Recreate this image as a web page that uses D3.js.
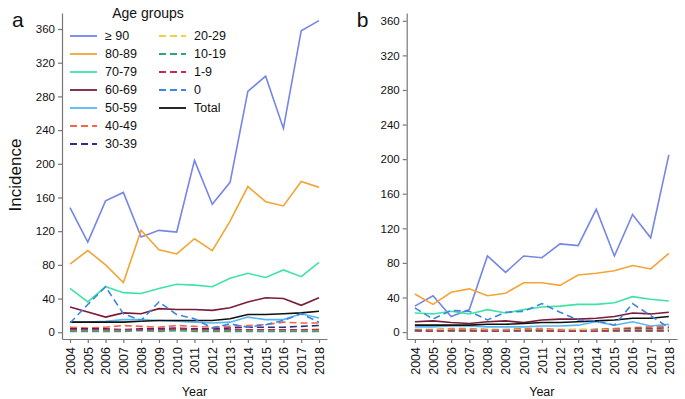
<html>
<head>
<script src="https://d3js.org/d3.v7.min.js"></script>
<style>
body { margin: 0; background: #fff; }
text { font-family: "Liberation Sans", Arial, sans-serif; fill: #111; }
</style>
</head>
<body>
<svg id="chart" width="685" height="399"></svg>
<script>
var years = [2004,2005,2006,2007,2008,2009,2010,2011,2012,2013,2014,2015,2016,2017,2018];
var groups = ["≥ 90","80-89","70-79","60-69","50-59","40-49","30-39","20-29","10-19","1-9","0","Total"];
var colors = ["#7585e8","#f4a434","#3fe3a6","#7a1c38","#55b8f2","#f2664a","#2e2f80","#f0d23a","#2aa877","#c22a5c","#3b86e0","#111111"];
var dashed = [false,false,false,false,false,true,true,true,true,true,true,false];
var yTicks = [0,40,80,120,160,200,240,280,320,360];

// panel a
var a90   = [148,107,156,166,113,121,119,204,152,178,286,304,242,358,370];
var a80   = [81,97,80,59,121,98,93,111,97,132,173,155,150,179,172];
var a70   = [52,36,54,47,46,52,57,56,54,64,70,65,74,66,83];
var a60   = [30,24,18,23,22,28,27,27,26,29,36,41,40,32,41];
var a50   = [12,12,13,15,15,14,13,12,11,12,18,15,15,22,17];
var a40   = [6,5,6,8,7,6,8,7,6,7,8,9,12,11,11];
var a30   = [4,4,4,3,4,4,5,4,4,5,6,6,6,7,8];
var a20   = [2,2,2,3,3,2,3,2,2,2,3,3,3,3,4];
var a10   = [1,1,1,1,2,1,2,1,1,1,1,1,1,1,1];
var a1    = [3,3,3,3,3,3,4,3,3,3,3,3,3,3,3];
var a0    = [11,33,54,22,14,36,21,16,5,10,6,9,14,22,12];
var aTot  = [12,12,12,12,13,14,14,14,14,16,21,21,22,23,25];

// panel b
var b90   = [30,42,18,26,88,69,88,86,102,100,142,88,136,109,205];
var b80   = [44,32,46,50,42,45,57,57,54,66,68,71,77,73,91];
var b70   = [22,21,24,21,26,22,26,29,30,32,32,34,41,38,36];
var b60   = [12,13,11,10,12,13,11,14,15,15,16,18,22,21,23];
var b50   = [6,6,7,7,6,6,6,7,7,8,12,8,12,7,9];
var b40   = [3,3,4,4,3,3,4,4,3,3,3,4,5,6,7];
var b30   = [2,2,2,2,2,2,3,2,2,2,3,3,4,4,5];
var b20   = [2,2,3,3,2,2,3,3,2,3,2,3,3,3,3];
var b10   = [1,1,1,1,1,1,1,1,1,1,1,1,1,1,1];
var b1    = [2,1,2,2,1,1,2,2,1,1,1,2,2,2,2];
var b0    = [28,15,25,24,14,23,24,33,23,14,13,8,33,19,5];
var bTot  = [8,8,8,8,9,9,10,11,11,12,13,14,16,16,18];

var panelA = [a90,a80,a70,a60,a50,a40,a30,a20,a10,a1,a0,aTot];
var panelB = [b90,b80,b70,b60,b50,b40,b30,b20,b10,b1,b0,bTot];

var svg = d3.select("#chart");

function drawPanel(series, x0, x1, yMax, letter) {
  var x = d3.scaleLinear().domain([2003.55, 2018.45]).range([x0, x1]);
  var y = d3.scaleLinear().domain([-8, yMax]).range([339, 13]);
  var g = svg.append("g");

  var ya = g.append("g").attr("transform", "translate(" + x0 + ",0)")
    .call(d3.axisLeft(y).tickValues(yTicks).tickSize(4).tickSizeOuter(0).tickPadding(3));
  var xa = g.append("g").attr("transform", "translate(0,339)")
    .call(d3.axisBottom(x).tickValues(years).tickFormat(d3.format("d")).tickSize(4).tickSizeOuter(0));
  [ya, xa].forEach(function(a) {
    a.selectAll("path,line").attr("stroke", "#777").attr("stroke-width", 1.2);
    a.selectAll("text").attr("fill", "#111")
      .attr("font-family", "'Liberation Sans', Arial, sans-serif");
  });
  ya.selectAll("text").attr("font-size", 11.5);
  xa.selectAll("text")
    .attr("font-size", 12.5)
    .attr("transform", "rotate(-90)")
    .attr("text-anchor", "end")
    .attr("x", -8).attr("y", 0).attr("dy", "0.35em");

  var line = d3.line().x(function(d, i) { return x(years[i]); }).y(function(d) { return y(d); });
  var order = [0,1,2,3,4,11,5,6,7,8,9,10];
  order.forEach(function(k) {
    g.append("path").datum(series[k])
      .attr("d", line)
      .attr("fill", "none")
      .attr("stroke", colors[k])
      .attr("stroke-width", 1.6)
      .attr("stroke-dasharray", dashed[k] ? "7,4" : null);
  });

  g.append("text").attr("x", (x0 + x1) / 2).attr("y", 396)
    .attr("text-anchor", "middle").attr("font-size", 12.5).text("Year");
  g.append("text").attr("x", x0 - 50).attr("y", 27)
    .attr("font-size", 21).text(letter);
}

drawPanel(panelA, 62, 327, 379, "a");
drawPanel(panelB, 406.7, 677, 369, "b");

svg.append("text").attr("transform", "translate(21,175) rotate(-90)")
  .attr("text-anchor", "middle").attr("font-size", 17).text("Incidence");

// legend
var leg = svg.append("g");
leg.append("text").attr("x", 148).attr("y", 18).attr("text-anchor", "middle")
  .attr("font-size", 14).text("Age groups");
groups.forEach(function(name, i) {
  var col = i < 7 ? 0 : 1;
  var row = i < 7 ? i : i - 7;
  var lx = col === 0 ? 70 : 159;
  var ly = 36 + row * 18;
  leg.append("line").attr("x1", lx).attr("x2", lx + 27).attr("y1", ly).attr("y2", ly)
    .attr("stroke", colors[i]).attr("stroke-width", 1.8)
    .attr("stroke-dasharray", dashed[i] ? "7,4" : null);
  leg.append("text").attr("x", lx + 35).attr("y", ly).attr("dy", "0.35em")
    .attr("font-size", 12.5).text(name);
});
</script>
</body>
</html>
